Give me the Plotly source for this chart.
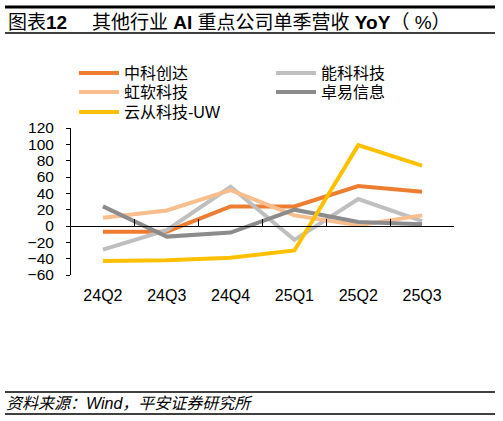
import plotly.graph_objects as go

quarters = ['24Q2', '24Q3', '24Q4', '25Q1', '25Q2', '25Q3']
zhongke = [-7, -7, 24, 24, 49, 42]        # 中科创达
nengke = [-29, -5, 48, -17, 33, 6]        # 能科科技
hongruan = [10, 19, 44, 13, 1, 13]        # 虹软科技
zhuoyi = [24, -13, -8, 20, 5, 2]          # 卓易信息
yuncong = [-43, -42, -39, -30, 99, 74]    # 云从科技-UW

series = [('中科创达', zhongke, '#ED7D31'),
          ('能科科技', nengke, '#BFBFBF'),
          ('虹软科技', hongruan, '#F8BE8E'),
          ('卓易信息', zhuoyi, '#8C8C8C'),
          ('云从科技-UW', yuncong, '#FFC000')]

# one legend box per entry: (left px, row centre px)
legend_spots = [(74, 73), (271, 73), (74, 92), (271, 92), (74, 112)]

font = 'Liberation Sans, Arial, Noto Sans CJK SC, sans-serif'

fig = go.Figure()
legends = {}
for i, ((name, values, color), (lx, ly)) in enumerate(zip(series, legend_spots)):
    key = 'legend' if i == 0 else f'legend{i + 1}'
    fig.add_trace(go.Scatter(x=quarters, y=values, name=name, mode='lines', legend=key,
                             line={'color': color, 'width': 4}, hoverinfo='skip'))
    legends[key] = {'x': (lx - 71) / 383, 'y': (275 - ly) / 147,
                    'xanchor': 'left', 'yanchor': 'middle', 'orientation': 'h',
                    'font': {'size': 16}, 'itemwidth': 40, 'bgcolor': 'rgba(0,0,0,0)'}

# invisible trace so the zero-line axis gets its categories
fig.add_trace(go.Scatter(x=quarters, y=zhongke, xaxis='x2', mode='lines',
                         line={'width': 0}, showlegend=False, hoverinfo='skip'))

fig.update_layout(
    width=503, height=421,
    margin={'l': 71, 'r': 49, 't': 128, 'b': 146, 'autoexpand': False},
    paper_bgcolor='white', plot_bgcolor='white',
    font={'family': font, 'size': 15, 'color': 'black'},
    showlegend=True,
    xaxis={'type': 'category', 'range': [-0.5, 5.5], 'showline': False, 'ticks': '',
           'showgrid': False, 'zeroline': False, 'ticklabelstandoff': 9,
           'tickfont': {'size': 16}},
    xaxis2={'type': 'category', 'overlaying': 'x', 'anchor': 'free', 'position': 1 / 3,
            'range': [-0.5, 5.5], 'showline': True, 'linecolor': 'black', 'linewidth': 1,
            'ticks': 'inside', 'tickson': 'boundaries', 'ticklen': 7, 'tickcolor': 'black',
            'showticklabels': False, 'showgrid': False, 'zeroline': False},
    yaxis={'range': [-60, 120], 'dtick': 20, 'showline': True, 'linecolor': 'black',
           'linewidth': 1, 'ticks': 'outside', 'ticklen': 4, 'tickcolor': 'black',
           'showgrid': False, 'zeroline': False, 'ticklabelstandoff': 9,
           'tickfont': {'size': 15.5}},
    **legends,
)

# title and source rules
for y0, w in [(7, 3), (33, 1.5), (392, 1.5), (414, 1.5)]:
    fig.add_shape(type='line', xref='paper', yref='paper',
                  x0=(5 - 71) / 383, x1=(495 - 71) / 383,
                  y0=(275 - y0) / 147, y1=(275 - y0) / 147,
                  line={'color': 'black', 'width': w})

fig.add_annotation(text='图表<b>12</b>', xref='paper', yref='paper',
                   x=(6 - 71) / 383, y=(275 - 22) / 147, xanchor='left', yanchor='middle',
                   showarrow=False, font={'size': 19})
fig.add_annotation(text='其他行业 <b>AI</b> 重点公司单季营收 <b>YoY</b>（ %）', xref='paper', yref='paper',
                   x=(90 - 71) / 383, y=(275 - 22) / 147, xanchor='left', yanchor='middle',
                   showarrow=False, font={'size': 19})
fig.add_annotation(text='<i>资料来源：Wind，平安证券研究所</i>', xref='paper', yref='paper',
                   x=(4 - 71) / 383, y=(275 - 403) / 147, xanchor='left', yanchor='middle',
                   showarrow=False, font={'size': 16})

# the page body has an 8px default margin; drop it so the figure fills the window
fig.write_html('out.html', config={'displayModeBar': False},
               post_script="document.body.style.margin='0';")
